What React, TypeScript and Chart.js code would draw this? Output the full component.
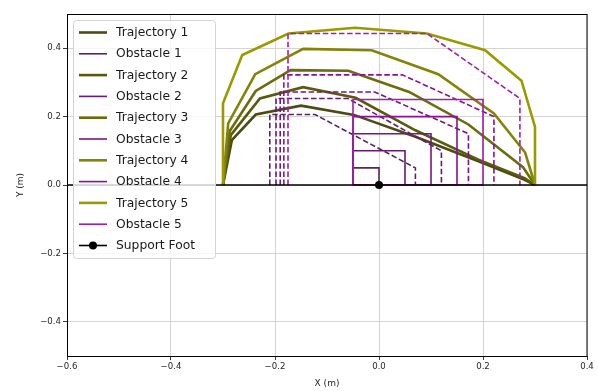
import React, { useEffect, useRef } from "react";
import { Chart, registerables } from "chart.js";
Chart.register(...registerables);

// ---- data ----
const traj1X = [-0.3, -0.283, -0.237, -0.15, -0.048, 0.07, 0.19, 0.28, 0.3];
const traj1Y = [0, 0.131, 0.206, 0.232, 0.205, 0.141, 0.07, 0.015, 0];
const traj2X = [-0.3, -0.285, -0.229, -0.146, -0.045, 0.07, 0.19, 0.28, 0.3];
const traj2Y = [0, 0.146, 0.253, 0.286, 0.255, 0.16, 0.075, 0.02, 0];
const traj3X = [-0.3, -0.287, -0.237, -0.17, -0.059, 0.058, 0.172, 0.277, 0.3];
const traj3Y = [0, 0.158, 0.275, 0.336, 0.334, 0.272, 0.177, 0.052, 0];
const traj4X = [-0.3, -0.29, -0.238, -0.146, -0.014, 0.114, 0.221, 0.281, 0.3];
const traj4Y = [0, 0.18, 0.324, 0.398, 0.394, 0.324, 0.209, 0.095, 0];
const traj5X = [-0.3, -0.3, -0.263, -0.174, -0.046, 0.092, 0.204, 0.274, 0.3, 0.3];
const traj5Y = [0, 0.239, 0.38, 0.443, 0.46, 0.443, 0.394, 0.305, 0.17, 0];

const obstacleLeft = -0.05;
const obstacleRight = [0.0, 0.05, 0.1, 0.15, 0.2];
const obstacleHeight = [0.05, 0.1, 0.15, 0.2, 0.25];

const marginLeftX = [-0.21, -0.198, -0.19, -0.183, -0.175];
const marginTopY = [0.206, 0.253, 0.272, 0.322, 0.443];
const marginShoulderX = [-0.123, -0.06, -0.008, 0.045, 0.092];
const marginRightX = [0.07, 0.12, 0.172, 0.221, 0.271];
const marginRightY = [0.05, 0.1, 0.15, 0.2, 0.253];

const supportFootX = [0.0];
const supportFootY = [0.0];

const xTicks = [-0.6, -0.4, -0.2, 0.0, 0.2, 0.4];
const yTicks = [-0.4, -0.2, 0.0, 0.2, 0.4];

const trajColors = ["#4b4b12", "#5a5a0c", "#6c6c0c", "#838308", "#9a9a00"];
const obsColors = ["#5a2462", "#681a72", "#781482", "#8a1092", "#a020a8"];

const trajXs = [traj1X, traj2X, traj3X, traj4X, traj5X];
const trajYs = [traj1Y, traj2Y, traj3Y, traj4Y, traj5Y];

const fmt = (v: number) => (v < -1e-9 ? "\u2212" : "") + Math.abs(v).toFixed(1);

function buildDatasets() {
  const ds: any[] = [];
  for (let i = 0; i < 5; i++) {
    ds.push({
      label: `Trajectory ${i + 1}`,
      data: trajXs[i].map((x, j) => ({ x, y: trajYs[i][j] })),
      borderColor: trajColors[i],
      backgroundColor: trajColors[i],
      borderWidth: 2.6,
      showLine: true,
      pointRadius: 0,
      legend: true,
    });
    const l = obstacleLeft;
    const r = obstacleRight[i];
    const h = obstacleHeight[i];
    ds.push({
      label: `Obstacle ${i + 1}`,
      data: [
        { x: l, y: 0 },
        { x: l, y: h },
        { x: r, y: h },
        { x: r, y: 0 },
        { x: l, y: 0 },
      ],
      borderColor: obsColors[i],
      backgroundColor: obsColors[i],
      borderWidth: 1.6,
      showLine: true,
      pointRadius: 0,
      legend: true,
    });
    ds.push({
      label: `Obstacle ${i + 1} margin`,
      data: [
        { x: marginLeftX[i], y: 0 },
        { x: marginLeftX[i], y: marginTopY[i] },
        { x: marginShoulderX[i], y: marginTopY[i] },
        { x: marginRightX[i], y: marginRightY[i] },
        { x: marginRightX[i], y: 0 },
      ],
      borderColor: obsColors[i],
      backgroundColor: obsColors[i],
      borderWidth: 1.6,
      borderDash: [5.5, 2.6],
      showLine: true,
      pointRadius: 0,
      legend: false,
    });
  }
  ds.push({
    label: "ground",
    data: [
      { x: -0.6, y: 0 },
      { x: 0.4, y: 0 },
    ],
    borderColor: "#000000",
    borderWidth: 1.6,
    showLine: true,
    pointRadius: 0,
    legend: false,
  });
  ds.push({
    label: "Support Foot",
    data: supportFootX.map((x, j) => ({ x, y: supportFootY[j] })),
    borderColor: "#000000",
    backgroundColor: "#000000",
    borderWidth: 1.6,
    showLine: false,
    pointRadius: 4,
    pointBorderWidth: 0,
    legend: true,
    marker: true,
  });
  ds.forEach((d, i) => (d.order = -i));
  return ds;
}

const framePlugin = {
  id: "frameAndLegend",
  afterDatasetsDraw(chart: any) {
    const { ctx, chartArea } = chart;
    ctx.save();
    ctx.strokeStyle = "#000";
    ctx.lineWidth = 1;
    ctx.strokeRect(
      Math.round(chartArea.left) + 0.5,
      Math.round(chartArea.top) + 0.5,
      Math.round(chartArea.right - chartArea.left) - 1 + 0.5,
      Math.round(chartArea.bottom - chartArea.top)
    );
    // legend
    const items = chart.data.datasets.filter((d: any) => d.legend);
    const bx = 73.5,
      by = 20.5,
      bw = 142,
      bh = 238;
    ctx.beginPath();
    ctx.roundRect(bx, by, bw, bh, 3);
    ctx.fillStyle = "rgba(255,255,255,0.8)";
    ctx.fill();
    ctx.strokeStyle = "#d4d4d4";
    ctx.lineWidth = 1;
    ctx.stroke();
    ctx.font = "12.3px 'DejaVu Sans'";
    ctx.textBaseline = "middle";
    items.forEach((d: any, i: number) => {
      const y = 32.5 + i * 21.3;
      ctx.strokeStyle = d.borderColor;
      ctx.lineWidth = d.borderWidth;
      ctx.setLineDash([]);
      ctx.beginPath();
      ctx.moveTo(79, y);
      ctx.lineTo(107, y);
      ctx.stroke();
      if (d.marker) {
        ctx.fillStyle = "#000";
        ctx.beginPath();
        ctx.arc(93, y, 4, 0, Math.PI * 2);
        ctx.fill();
      }
      ctx.fillStyle = "#1a1a1a";
      ctx.fillText(d.label, 116, y + 0.5);
    });
    ctx.restore();
  },
};

export default function App() {
  const ref = useRef<HTMLCanvasElement>(null);
  useEffect(() => {
    if (!ref.current) return;
    const tickFont = { family: "'DejaVu Sans'", size: 8.6 };
    const chart = new Chart(ref.current, {
      type: "scatter",
      data: { datasets: buildDatasets() },
      options: {
        animation: false,
        responsive: false,
        maintainAspectRatio: false,
        layout: { padding: { top: 14, right: 11, left: 0, bottom: 0 } },
        plugins: { legend: { display: false }, tooltip: { enabled: false } },
        scales: {
          x: {
            type: "linear",
            min: -0.6,
            max: 0.4,
            afterBuildTicks: (s: any) => {
              s.ticks = xTicks.map((v) => ({ value: v }));
            },
            afterFit: (s: any) => {
              s.height = 35;
            },
            ticks: {
              callback: (v: any) => fmt(Number(v)),
              font: tickFont,
              color: "#262626",
              padding: 2,
              maxRotation: 0,
              autoSkip: false,
            },
            grid: { color: "#d0d0d0", lineWidth: 0.9, tickLength: 4, tickColor: "#222" },
            border: { display: false },
            title: {
              display: true,
              text: "X (m)",
              font: { family: "'DejaVu Sans'", size: 9 },
              color: "#262626",
              padding: { top: 0, bottom: 2 },
            },
          },
          y: {
            type: "linear",
            min: -0.5,
            max: 0.5,
            afterBuildTicks: (s: any) => {
              s.ticks = yTicks.map((v) => ({ value: v }));
            },
            afterFit: (s: any) => {
              s.width = 67;
            },
            ticks: {
              callback: (v: any) => fmt(Number(v)),
              font: tickFont,
              color: "#262626",
              padding: 2,
              autoSkip: false,
            },
            grid: { color: "#d0d0d0", lineWidth: 0.9, tickLength: 4, tickColor: "#222" },
            border: { display: false },
            title: {
              display: true,
              text: "Y (m)",
              font: { family: "'DejaVu Sans'", size: 9 },
              color: "#262626",
              padding: { top: 15, bottom: 0 },
            },
          },
        },
      },
      plugins: [framePlugin],
    } as any);
    return () => chart.destroy();
  }, []);
  return (
    <div style={{ position: "fixed", left: 0, top: 0, width: 598, height: 391, background: "#fff" }}>
      <canvas ref={ref} width={598} height={391} style={{ display: "block" }} />
    </div>
  );
}
